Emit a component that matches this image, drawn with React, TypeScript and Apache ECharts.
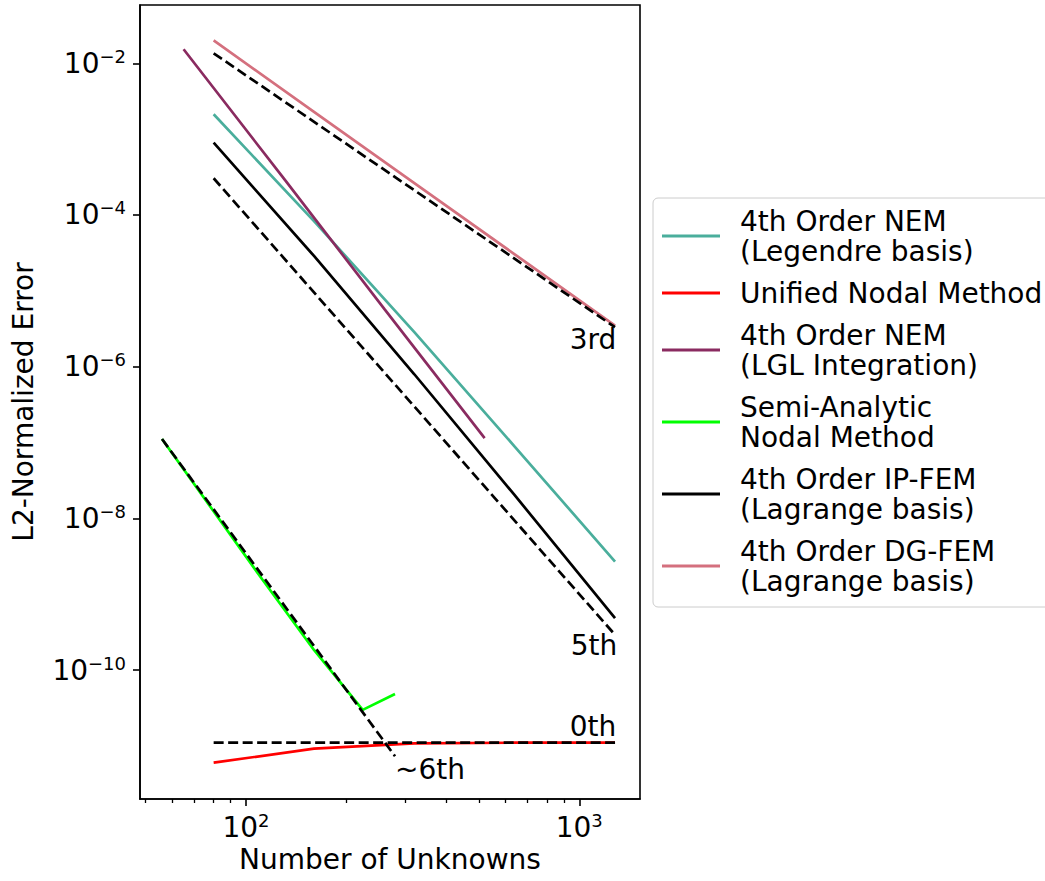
import React, { useEffect, useRef } from "react";
import * as echarts from "echarts";

// ---- data (number of unknowns vs. L2-normalized error) ----
const nLegendre = [80, 160, 320, 640, 1280];
const errLegendre = [2.13e-3, 8.28e-5, 2.85e-6, 8.85e-8, 2.69e-9];

const nUnified = [80, 160, 320, 640, 1280];
const errUnified = [6.0e-12, 9.2e-12, 1.08e-11, 1.1e-11, 1.1e-11];

const nLGL = [65, 130, 260, 520];
const errLGL = [1.53e-2, 3.01e-4, 5.77e-6, 1.14e-7];

const nSemi = [56, 112, 160, 224, 280];
const errSemi = [1.11e-7, 1.56e-9, 1.84e-10, 2.98e-11, 4.84e-11];

const nIP = [80, 160, 320, 640, 1280];
const errIP = [8.97e-4, 2.88e-5, 7.94e-7, 2.02e-8, 4.82e-10];

const nDG = [80, 160, 320, 640, 1280];
const errDG = [2.0e-2, 2.29e-3, 2.63e-4, 3.03e-5, 3.48e-6];

// reference convergence-order lines
const ref3N = [80, 1280];
const ref3Err = [1.355e-2, 3.31e-6];
const ref5N = [80, 1280];
const ref5Err = [3.05e-4, 2.91e-10];
const ref0N = [80, 1280];
const ref0Err = [1.1e-11, 1.1e-11];
const ref6N = [56, 280];
const ref6Err = [1.11e-7, 7.3e-12];

const seriesNames = [
  "4th Order NEM\n(Legendre basis)",
  "Unified Nodal Method",
  "4th Order NEM\n(LGL Integration)",
  "Semi-Analytic\nNodal Method",
  "4th Order IP-FEM\n(Lagrange basis)",
  "4th Order DG-FEM\n(Lagrange basis)",
];
const seriesColors = ["#4aae9c", "#ff0000", "#8a2b60", "#00ff00", "#000000", "#d4707e"];

const refLabels = ["3rd", "5th", "0th", "~6th"];

// axis ticks (powers of ten)
const xMajorExp = [2, 3];
const xMinorVals = [50, 60, 70, 80, 90, 200, 300, 400, 500, 600, 700, 800, 900];
const yMajorExp = [-10, -8, -6, -4, -2];
const xRange = [48.1, 1521];
const yRange = [1.992e-12, 5.87e-2];

const FONT = "DejaVu Sans";
const lg = (v: number) => Math.log10(v);
const pts = (xs: number[], ys: number[]) => xs.map((x, i) => [lg(x), lg(ys[i])]);
const sup = (e: number) => (e < 0 ? "\u2212" + Math.abs(e) : String(e));

export default function App() {
  const ref = useRef<HTMLDivElement>(null);
  useEffect(() => {
    if (!ref.current) return;
    const chart = echarts.init(ref.current, undefined, { renderer: "svg" });
    const dataSets = [
      pts(nLegendre, errLegendre),
      pts(nUnified, errUnified),
      pts(nLGL, errLGL),
      pts(nSemi, errSemi),
      pts(nIP, errIP),
      pts(nDG, errDG),
    ];
    const refSets = [pts(ref3N, ref3Err), pts(ref5N, ref5Err), pts(ref0N, ref0Err), pts(ref6N, ref6Err)];
    const labelOffsets = [
      [-22, 12],
      [-21, 11],
      [-22, -16],
      [35, 13],
    ];
    const richLabel = {
      b: { fontSize: 28, lineHeight: 32, fontFamily: FONT, color: "#000" },
      s: { fontSize: 18, lineHeight: 18, fontFamily: FONT, color: "#000", verticalAlign: "top" as const },
    };
    const option: any = {
      animation: false,
      backgroundColor: "#ffffff",
      grid: {
        left: 140,
        top: 5,
        width: 500,
        height: 794,
        show: true,
        borderColor: "#000",
        borderWidth: 1.6,
        backgroundColor: "transparent",
      },
      xAxis: [
        {
          type: "value",
          min: lg(xRange[0]),
          max: lg(xRange[1]),
          name: "Number of Unknowns",
          nameLocation: "middle",
          nameGap: 44,
          nameTextStyle: { fontSize: 28, fontFamily: FONT, color: "#000" },
          axisLine: { show: true, lineStyle: { color: "#000", width: 1.6 } },
          axisTick: { show: true, length: 7, lineStyle: { color: "#000", width: 1.6 }, customValues: xMajorExp },
          axisLabel: {
            margin: 12,
            customValues: xMajorExp,
            formatter: (v: number) => `{b|10}{s|${sup(Math.round(v))}}`,
            rich: richLabel,
          },
          splitLine: { show: false },
        },
        {
          type: "value",
          min: lg(xRange[0]),
          max: lg(xRange[1]),
          position: "bottom",
          axisLine: { show: false },
          axisLabel: { show: false },
          splitLine: { show: false },
          axisTick: {
            show: true,
            length: 4,
            lineStyle: { color: "#000", width: 1.3 },
            customValues: xMinorVals.map(lg),
          },
        },
      ],
      yAxis: {
        type: "value",
        min: lg(yRange[0]),
        max: lg(yRange[1]),
        name: "L2-Normalized Error",
        nameLocation: "middle",
        nameGap: 103,
        nameTextStyle: { fontSize: 28, fontFamily: FONT, color: "#000" },
        axisLine: { show: true, lineStyle: { color: "#000", width: 1.6 } },
        axisTick: { show: true, length: 7, lineStyle: { color: "#000", width: 1.6 }, customValues: yMajorExp },
        axisLabel: {
          margin: 14,
          customValues: yMajorExp,
          formatter: (v: number) => `{b|10}{s|${sup(Math.round(v))}}`,
          rich: richLabel,
        },
        splitLine: { show: false },
      },
      legend: {
        orient: "vertical",
        left: 653,
        top: 198,
        padding: [8, 14, 11, 9],
        icon: "rect",
        itemWidth: 58,
        itemHeight: 3,
        itemGap: 12,
        selectedMode: false,
        backgroundColor: "rgba(255,255,255,0.8)",
        borderColor: "#cccccc",
        borderWidth: 1,
        borderRadius: 5,
        data: seriesNames,
        textStyle: {
          fontSize: 28,
          lineHeight: 30,
          fontFamily: FONT,
          color: "#000",
          padding: [0, 0, 0, 15],
        },
      },
      series: [
        ...dataSets.map((d, i) => ({
          type: "line",
          name: seriesNames[i],
          data: d,
          symbol: "none",
          silent: true,
          color: seriesColors[i],
          itemStyle: { color: seriesColors[i] },
          lineStyle: { color: seriesColors[i], width: 2.7 },
        })),
        ...refSets.map((d) => ({
          type: "line",
          data: d,
          symbol: "none",
          silent: true,
          lineStyle: { color: "#000", width: 2.7, type: [10, 4.5] },
        })),
        {
          type: "scatter",
          silent: true,
          symbolSize: 0,
          itemStyle: { color: "#000", opacity: 1 },
          data: refSets.map((d, i) => ({
            name: refLabels[i],
            value: d[d.length - 1],
            label: { offset: labelOffsets[i] },
          })),
          label: {
            show: true,
            position: "inside",
            formatter: "{b}",
            fontSize: 28,
            fontFamily: FONT,
            color: "#000",
            opacity: 1,
            textBorderWidth: 0,
          },
        },
      ],
    };
    chart.setOption(option);
    return () => chart.dispose();
  }, []);
  return (
    <div
      ref={ref}
      style={{ position: "absolute", left: 0, top: 0, width: 1045, height: 881, background: "#fff" }}
    />
  );
}
